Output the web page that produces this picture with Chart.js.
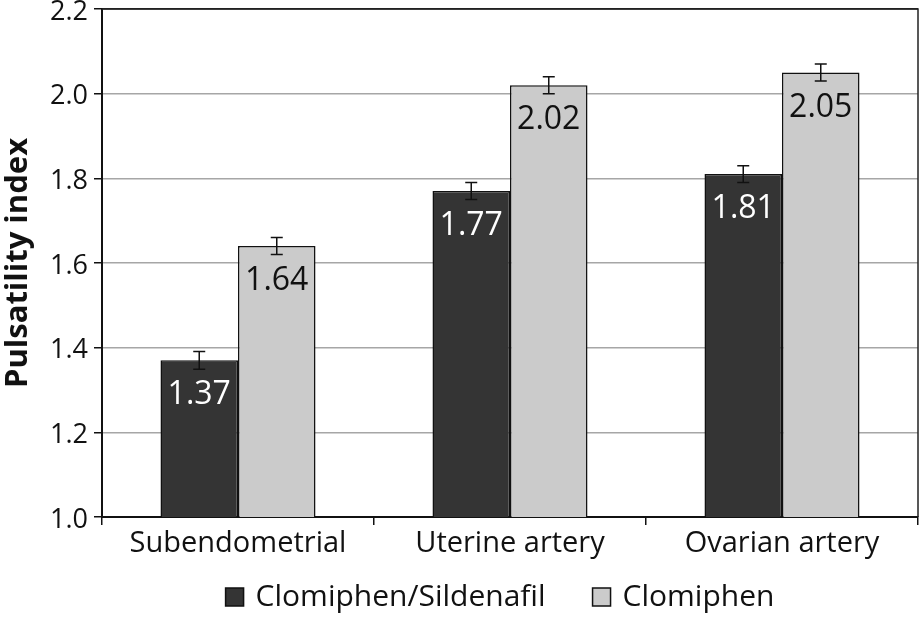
<!DOCTYPE html>
<html>
<head>
<meta charset="utf-8">
<script src="https://cdn.jsdelivr.net/npm/chart.js@4/dist/chart.umd.min.js"></script>
<style>
  html, body { margin: 0; padding: 0; background: #fff; }
  #wrap { width: 920px; height: 617px; }
</style>
</head>
<body>
<div id="wrap"><canvas id="pi-chart"></canvas></div>
<script>
// Values
const categories = ['Subendometrial', 'Uterine artery', 'Ovarian artery'];
const comboValues = [1.37, 1.77, 1.81];
const comboErrors = [0.021, 0.02, 0.02];
const clomiValues = [1.64, 2.02, 2.05];
const clomiErrors = [0.02, 0.02, 0.02];
const yTicks = [1.0, 1.2, 1.4, 1.6, 1.8, 2.0, 2.2];

const errors = [comboErrors, clomiErrors];
const fontFamily = '"Open Sans", "Noto Sans", sans-serif';

// Error bars and value labels drawn from the scales
const barExtras = {
    id: 'barExtras',
    afterDatasetsDraw(chart) {
        const ctx = chart.ctx;
        const yScale = chart.scales.y;
        chart.data.datasets.forEach((ds, di) => {
            const meta = chart.getDatasetMeta(di);
            meta.data.forEach((bar, i) => {
                const v = ds.data[i];
                const e = errors[di][i];
                const x = bar.x;
                const yTop = yScale.getPixelForValue(v + e);
                const yBot = yScale.getPixelForValue(v - e);
                ctx.save();
                ctx.strokeStyle = '#111';
                ctx.lineWidth = 1.5;
                ctx.beginPath();
                ctx.moveTo(x, yTop); ctx.lineTo(x, yBot);
                ctx.moveTo(x - 6, yTop); ctx.lineTo(x + 6, yTop);
                ctx.moveTo(x - 6, yBot); ctx.lineTo(x + 6, yBot);
                ctx.stroke();

                ctx.fillStyle = di === 0 ? '#ffffff' : '#111111';
                ctx.font = '32px ' + fontFamily;
                ctx.textAlign = 'center';
                ctx.textBaseline = 'middle';
                ctx.fillText(v.toFixed(2), x, yScale.getPixelForValue(v) + 35);
                ctx.restore();
            });
        });
    }
};

// Dark frame on top and right edges of plot area
const frame = {
    id: 'frame',
    afterDraw(chart) {
        const a = chart.chartArea;
        const ctx = chart.ctx;
        ctx.save();
        ctx.strokeStyle = '#222';
        ctx.lineWidth = 1.5;
        ctx.beginPath();
        ctx.moveTo(a.left, a.top);
        ctx.lineTo(a.right, a.top);
        ctx.lineTo(a.right, a.bottom);
        ctx.stroke();
        ctx.restore();
    }
};

// Legend row under the axis labels
const legendRow = {
    id: 'legendRow',
    afterDraw(chart) {
        const ctx = chart.ctx;
        const a = chart.chartArea;
        const box = 18, textGap = 12, itemGap = 47;
        const y = 597;
        ctx.save();
        ctx.font = '30px ' + fontFamily;
        ctx.textBaseline = 'middle';
        ctx.textAlign = 'left';
        const items = chart.data.datasets.map(ds => ({
            text: ds.label,
            fill: ds.backgroundColor,
            w: ctx.measureText(ds.label).width
        }));
        let total = 0;
        items.forEach((it, i) => {
            total += box + textGap + it.w + (i < items.length - 1 ? itemGap : 0);
        });
        let x = (a.left + a.right) / 2 - 10 - total / 2;
        items.forEach(it => {
            ctx.fillStyle = it.fill;
            ctx.fillRect(x, y - box / 2, box, box);
            ctx.strokeStyle = '#111';
            ctx.lineWidth = 1.5;
            ctx.strokeRect(x, y - box / 2, box, box);
            ctx.fillStyle = '#111';
            ctx.fillText(it.text, x + box + textGap, y);
            x += box + textGap + it.w + itemGap;
        });
        ctx.restore();
    }
};

new Chart(document.getElementById('pi-chart'), {
    type: 'bar',
    data: {
        labels: categories,
        datasets: [
            {
                label: 'Clomiphen/Sildenafil',
                data: comboValues,
                backgroundColor: '#343434',
                borderColor: '#111',
                borderWidth: 1.5,
                borderSkipped: false
            },
            {
                label: 'Clomiphen',
                data: clomiValues,
                backgroundColor: '#cbcbcb',
                borderColor: '#111',
                borderWidth: 1.5,
                borderSkipped: false
            }
        ]
    },
    options: {
        responsive: true,
        maintainAspectRatio: false,
        animation: false,
        layout: { padding: { top: 0, right: 2, bottom: 52, left: 0 } },
        datasets: {
            bar: { categoryPercentage: 0.57, barPercentage: 1.0 }
        },
        plugins: {
            legend: { display: false },
            tooltip: { enabled: false }
        },
        scales: {
            x: {
                offset: true,
                afterFit(scale) { scale.height = 48; },
                grid: {
                    offset: true,
                    drawOnChartArea: false,
                    drawTicks: true,
                    tickLength: 8,
                    color: '#111',
                    lineWidth: 1.5
                },
                border: { color: '#111', width: 2 },
                ticks: {
                    color: '#111',
                    font: { family: fontFamily, size: 29 },
                    padding: 1
                }
            },
            y: {
                min: 1.0,
                max: 2.2,
                afterBuildTicks(scale) {
                    scale.ticks = yTicks.map(v => ({ value: v }));
                },
                afterFit(scale) {
                    scale.width = 102;
                    scale.paddingTop = 9;
                },
                grid: {
                    color: ctx => ctx.tick && ctx.tick.value === 2.2 ? '#222' : '#a6a6a6',
                    lineWidth: 1.5,
                    tickLength: 8,
                    tickColor: '#111'
                },
                border: { color: '#111', width: 2 },
                ticks: {
                    color: '#111',
                    font: { family: fontFamily, size: 27 },
                    padding: 6,
                    labelOffset: 3,
                    callback: v => Number(v).toFixed(1)
                },
                title: {
                    display: true,
                    text: 'Pulsatility index',
                    color: '#111',
                    font: { family: fontFamily, size: 31, weight: 'bold' },
                    padding: { top: 0, bottom: 2 }
                }
            }
        }
    },
    plugins: [barExtras, frame, legendRow]
});
</script>
</body>
</html>
